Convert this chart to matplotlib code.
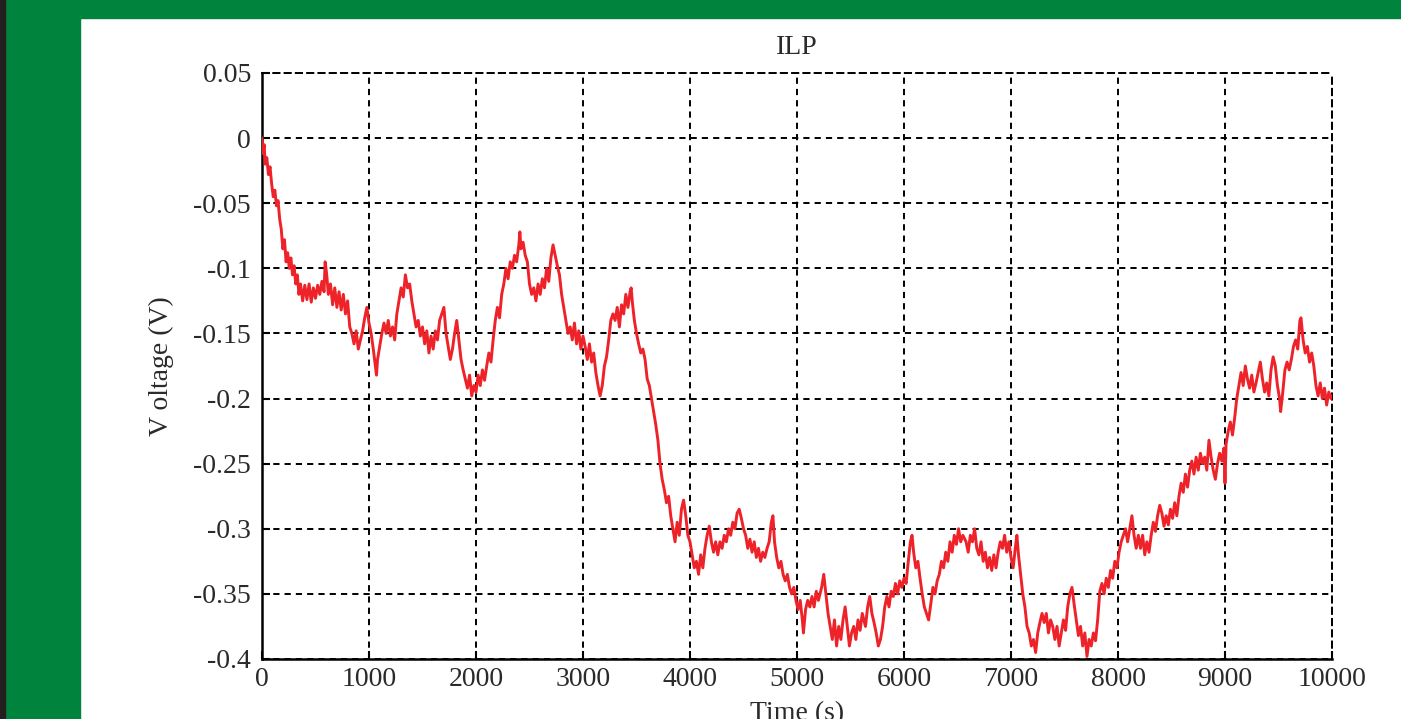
import matplotlib
matplotlib.use("Agg")
import matplotlib.pyplot as plt
from matplotlib.patches import Rectangle

title_text = "ILP"
x_label = "Time (s)"
y_label = "V oltage (V)"
x_ticks = [0, 1000, 2000, 3000, 4000, 5000, 6000, 7000, 8000, 9000, 10000]
y_ticks = [0.05, 0, -0.05, -0.1, -0.15, -0.2, -0.25, -0.3, -0.35, -0.4]
y_tick_labels = ["0.05", "0", "-0.05", "-0.1", "-0.15", "-0.2", "-0.25", "-0.3", "-0.35", "-0.4"]

time_s = [
    0, 10, 20, 30, 45, 60, 75, 90, 105, 120, 135, 150, 165, 180, 195, 210, 225, 240, 255, 270,
    285, 300, 315, 330, 345, 360, 380, 400, 420, 440, 460, 480, 500, 520, 540, 560, 580, 590, 605, 620,
    640, 660, 680, 700, 720, 740, 760, 780, 800, 820, 840, 860, 880, 900, 920, 940, 960, 980, 1000, 1020,
    1040, 1060, 1070, 1080, 1100, 1120, 1140, 1160, 1180, 1200, 1220, 1240, 1260, 1280, 1300, 1320, 1340, 1360, 1380, 1400,
    1420, 1440, 1460, 1480, 1500, 1520, 1540, 1560, 1580, 1600, 1620, 1640, 1660, 1680, 1700, 1720, 1740, 1760, 1780, 1800,
    1820, 1840, 1860, 1880, 1900, 1920, 1940, 1960, 1980, 2000, 2020, 2040, 2060, 2080, 2100, 2120, 2140, 2160, 2180, 2200,
    2220, 2240, 2260, 2280, 2300, 2320, 2340, 2360, 2380, 2400, 2410, 2420, 2440, 2460, 2480, 2500, 2520, 2540, 2560, 2580,
    2600, 2620, 2640, 2660, 2680, 2700, 2720, 2740, 2760, 2780, 2800, 2820, 2840, 2860, 2880, 2900, 2920, 2940, 2960, 2980,
    3000, 3020, 3040, 3060, 3080, 3100, 3120, 3140, 3160, 3180, 3200, 3220, 3240, 3260, 3280, 3300, 3320, 3340, 3360, 3380,
    3400, 3420, 3440, 3450, 3460, 3480, 3500, 3520, 3540, 3560, 3580, 3600, 3620, 3640, 3660, 3680, 3700, 3720, 3740, 3760,
    3780, 3800, 3820, 3840, 3860, 3880, 3900, 3920, 3940, 3960, 3980, 4000, 4020, 4040, 4060, 4080, 4100, 4120, 4140, 4160,
    4180, 4200, 4220, 4240, 4260, 4280, 4300, 4320, 4340, 4360, 4380, 4400, 4420, 4440, 4460, 4480, 4500, 4520, 4540, 4560,
    4580, 4600, 4620, 4640, 4660, 4680, 4700, 4720, 4740, 4760, 4775, 4790, 4810, 4830, 4850, 4870, 4890, 4910, 4930, 4950,
    4970, 4990, 5010, 5030, 5050, 5060, 5080, 5100, 5120, 5140, 5160, 5180, 5200, 5230, 5250, 5270, 5290, 5310, 5330, 5350,
    5370, 5390, 5410, 5430, 5450, 5470, 5490, 5510, 5530, 5550, 5570, 5590, 5610, 5640, 5660, 5680, 5700, 5720, 5740, 5760,
    5780, 5800, 5820, 5840, 5860, 5880, 5900, 5920, 5940, 5960, 5980, 6000, 6020, 6040, 6060, 6075, 6090, 6110, 6130, 6150,
    6170, 6190, 6210, 6230, 6250, 6270, 6290, 6310, 6330, 6350, 6370, 6390, 6410, 6430, 6450, 6470, 6490, 6510, 6530, 6550,
    6580, 6600, 6620, 6640, 6660, 6680, 6700, 6720, 6740, 6760, 6780, 6800, 6820, 6840, 6860, 6880, 6900, 6920, 6940, 6960,
    6980, 7000, 7020, 7040, 7055, 7070, 7090, 7110, 7130, 7150, 7170, 7190, 7210, 7230, 7250, 7270, 7290, 7310, 7330, 7350,
    7370, 7390, 7410, 7430, 7450, 7470, 7490, 7510, 7530, 7550, 7570, 7590, 7610, 7630, 7650, 7670, 7690, 7710, 7730, 7750,
    7770, 7790, 7810, 7830, 7850, 7870, 7890, 7910, 7930, 7950, 7970, 7990, 8010, 8030, 8050, 8070, 8090, 8110, 8130, 8150,
    8170, 8190, 8210, 8230, 8250, 8270, 8290, 8310, 8330, 8350, 8370, 8390, 8410, 8430, 8450, 8470, 8490, 8510, 8530, 8550,
    8570, 8590, 8610, 8630, 8650, 8670, 8690, 8710, 8730, 8750, 8770, 8790, 8810, 8830, 8850, 8870, 8890, 8910, 8930, 8950,
    8970, 8990, 9000, 9010, 9030, 9050, 9070, 9090, 9110, 9130, 9150, 9170, 9190, 9210, 9230, 9250, 9270, 9290, 9310, 9330,
    9350, 9370, 9390, 9410, 9430, 9450, 9470, 9490, 9510, 9520, 9540, 9560, 9580, 9600, 9620, 9640, 9660, 9680, 9700, 9710,
    9730, 9750, 9770, 9790, 9810, 9830, 9850, 9870, 9890, 9910, 9930, 9950, 9970, 9990, 10000,
]

voltage_v = [
    0.0, -0.012, -0.005, -0.02, -0.015, -0.028, -0.022, -0.035, -0.045, -0.04, -0.052, -0.048, -0.062, -0.07, -0.085, -0.078, -0.095, -0.088, -0.1, -0.092,
    -0.105, -0.098, -0.112, -0.105, -0.12, -0.112, -0.125, -0.113, -0.124, -0.112, -0.126, -0.115, -0.123, -0.113, -0.12, -0.11, -0.118, -0.095, -0.105, -0.12,
    -0.112, -0.128, -0.115, -0.13, -0.118, -0.132, -0.12, -0.135, -0.125, -0.145, -0.15, -0.158, -0.148, -0.162, -0.155, -0.148, -0.138, -0.13, -0.142, -0.15,
    -0.162, -0.175, -0.182, -0.17, -0.16, -0.15, -0.142, -0.15, -0.14, -0.152, -0.145, -0.155, -0.135, -0.125, -0.115, -0.122, -0.105, -0.115, -0.112, -0.125,
    -0.135, -0.145, -0.14, -0.152, -0.145, -0.158, -0.148, -0.165, -0.152, -0.162, -0.148, -0.155, -0.14, -0.135, -0.13, -0.15, -0.16, -0.17, -0.162, -0.15,
    -0.14, -0.155, -0.17, -0.178, -0.185, -0.192, -0.182, -0.198, -0.19, -0.195, -0.182, -0.19, -0.178, -0.186, -0.175, -0.165, -0.172, -0.155, -0.14, -0.13,
    -0.138, -0.12, -0.112, -0.1, -0.108, -0.095, -0.1, -0.09, -0.095, -0.082, -0.072, -0.085, -0.08, -0.09, -0.095, -0.112, -0.12, -0.115, -0.125, -0.112,
    -0.12, -0.108, -0.115, -0.1, -0.11, -0.092, -0.082, -0.09, -0.098, -0.105, -0.12, -0.13, -0.14, -0.15, -0.145, -0.155, -0.142, -0.158, -0.148, -0.162,
    -0.152, -0.16, -0.17, -0.158, -0.172, -0.165, -0.18, -0.19, -0.198, -0.19, -0.175, -0.168, -0.155, -0.14, -0.135, -0.14, -0.13, -0.145, -0.128, -0.135,
    -0.12, -0.13, -0.118, -0.115, -0.125, -0.14, -0.15, -0.158, -0.165, -0.162, -0.17, -0.185, -0.19, -0.2, -0.21, -0.22, -0.232, -0.25, -0.262, -0.27,
    -0.28, -0.275, -0.29, -0.3, -0.31, -0.295, -0.305, -0.285, -0.278, -0.29, -0.305, -0.31, -0.32, -0.33, -0.325, -0.335, -0.32, -0.33, -0.315, -0.305,
    -0.298, -0.31, -0.318, -0.31, -0.32, -0.31, -0.315, -0.305, -0.31, -0.3, -0.305, -0.295, -0.3, -0.288, -0.285, -0.292, -0.3, -0.305, -0.315, -0.308,
    -0.318, -0.31, -0.322, -0.315, -0.325, -0.318, -0.322, -0.315, -0.31, -0.295, -0.29, -0.31, -0.322, -0.33, -0.325, -0.335, -0.34, -0.335, -0.345, -0.35,
    -0.345, -0.355, -0.362, -0.355, -0.37, -0.38, -0.362, -0.355, -0.36, -0.352, -0.36, -0.348, -0.355, -0.345, -0.335, -0.35, -0.365, -0.375, -0.385, -0.37,
    -0.39, -0.375, -0.385, -0.37, -0.36, -0.375, -0.39, -0.38, -0.375, -0.385, -0.37, -0.378, -0.365, -0.375, -0.36, -0.352, -0.365, -0.372, -0.38, -0.39,
    -0.385, -0.375, -0.36, -0.352, -0.36, -0.348, -0.352, -0.342, -0.35, -0.34, -0.345, -0.338, -0.342, -0.325, -0.31, -0.305, -0.318, -0.33, -0.325, -0.338,
    -0.35, -0.36, -0.365, -0.37, -0.358, -0.345, -0.35, -0.34, -0.335, -0.325, -0.33, -0.318, -0.325, -0.31, -0.318, -0.305, -0.312, -0.3, -0.31, -0.305,
    -0.31, -0.318, -0.305, -0.31, -0.3, -0.315, -0.32, -0.31, -0.325, -0.318, -0.33, -0.322, -0.332, -0.32, -0.33, -0.318, -0.31, -0.315, -0.305, -0.318,
    -0.31, -0.322, -0.33, -0.315, -0.305, -0.32, -0.335, -0.35, -0.36, -0.375, -0.38, -0.39, -0.385, -0.395, -0.38, -0.372, -0.365, -0.372, -0.365, -0.38,
    -0.37, -0.375, -0.385, -0.375, -0.39, -0.38, -0.37, -0.378, -0.36, -0.35, -0.345, -0.358, -0.37, -0.382, -0.375, -0.39, -0.38, -0.398, -0.385, -0.39,
    -0.38, -0.386, -0.37, -0.348, -0.342, -0.35, -0.338, -0.345, -0.332, -0.338, -0.325, -0.33, -0.318, -0.31, -0.305, -0.3, -0.31, -0.3, -0.29, -0.305,
    -0.315, -0.305, -0.315, -0.305, -0.32, -0.31, -0.318, -0.305, -0.295, -0.302, -0.29, -0.282, -0.288, -0.298, -0.29, -0.297, -0.285, -0.292, -0.28, -0.29,
    -0.275, -0.265, -0.272, -0.258, -0.268, -0.255, -0.248, -0.258, -0.245, -0.255, -0.242, -0.25, -0.245, -0.255, -0.232, -0.245, -0.255, -0.262, -0.25, -0.242,
    -0.248, -0.238, -0.265, -0.235, -0.225, -0.218, -0.228, -0.215, -0.2, -0.19, -0.18, -0.19, -0.175, -0.185, -0.192, -0.182, -0.195, -0.188, -0.18, -0.172,
    -0.185, -0.195, -0.188, -0.198, -0.178, -0.168, -0.175, -0.19, -0.2, -0.21, -0.195, -0.178, -0.172, -0.178, -0.17, -0.16, -0.155, -0.162, -0.14, -0.138,
    -0.155, -0.165, -0.16, -0.172, -0.165, -0.175, -0.19, -0.198, -0.188, -0.2, -0.192, -0.205, -0.195, -0.2, -0.198,
]

W, H = 1401, 719
fig = plt.figure(figsize=(W / 100, H / 100), dpi=100)
fig.patch.set_facecolor("white")
# page decorations (green frame around the figure)
fig.patches.append(Rectangle((5 / W, 0), 75 / W, 1, transform=fig.transFigure, color="#00843d", zorder=-10))
fig.patches.append(Rectangle((0, 1 - 18 / H), 1, 18 / H, transform=fig.transFigure, color="#00843d", zorder=-10))
fig.patches.append(Rectangle((0, 0), 5 / W, 1, transform=fig.transFigure, color="#231f20", zorder=-9))

ax = fig.add_axes([262 / W, 60 / H, 1070 / W, 586 / H])
ax.plot(time_s, voltage_v, color="#ee2229", lw=2.1, zorder=3)

ax.set_xlim(0, 10000)
ax.set_ylim(-0.4, 0.05)
ax.set_xticks(x_ticks)
ax.set_xticklabels([str(t) for t in x_ticks])
ax.set_yticks(y_ticks)
ax.set_yticklabels(y_tick_labels)

font = "Liberation Serif"
for lab in ax.get_xticklabels() + ax.get_yticklabels():
    lab.set_fontfamily(font)
    lab.set_fontsize(20)
    lab.set_color("#2a2a2a")

ax.tick_params(direction="in", length=6, width=1.5, color="black")
ax.tick_params(axis="y", pad=8)
ax.tick_params(axis="x", pad=6)

dash = (0, (3.2, 2.6))
ax.grid(True, color="black", linestyle=dash, linewidth=1.4)
for s in ["left", "bottom"]:
    ax.spines[s].set_linewidth(1.8)
    ax.spines[s].set_color("black")
for s in ["top", "right"]:
    ax.spines[s].set_linestyle(dash)
    ax.spines[s].set_linewidth(1.4)
    ax.spines[s].set_color("black")

ax.set_title(title_text, fontfamily=font, fontsize=20, color="#2a2a2a", pad=14)
ax.set_ylabel(y_label, fontfamily=font, fontsize=20, color="#2a2a2a", labelpad=14)
ax.set_xlabel(x_label, fontfamily=font, fontsize=20, color="#2a2a2a", labelpad=6)

fig.savefig("out.png", dpi=100, facecolor="white")
